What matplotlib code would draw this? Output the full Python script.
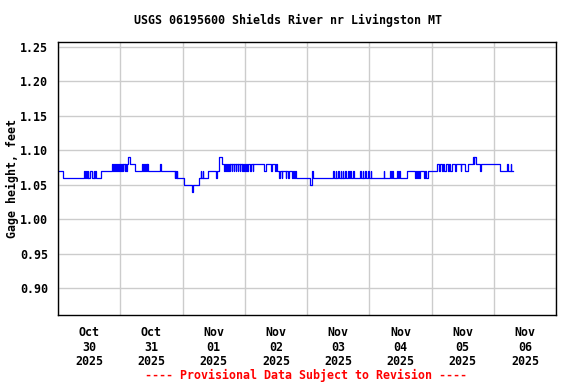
#!/usr/bin/env python3
"""USGS gage height plot, Shields River nr Livingston MT (provisional data)."""
import matplotlib
matplotlib.use("Agg")
import matplotlib.pyplot as plt
import matplotlib.dates as mdates
import numpy as np
import pandas as pd

START = pd.Timestamp("2025-10-30 00:00")

# step changes: hours after Oct 30 00:00, gage height (ft)
hours = [
    0.0, 1.75,
    10.0, 10.25, 10.75, 11.0, 11.5, 11.75, 12.5, 13.0, 13.75, 14.0, 14.25, 14.5,
    16.75,
    21.0, 21.25, 21.5, 22.0, 22.25, 22.75, 23.0, 23.5, 23.75, 24.25, 24.5, 25.0,
    25.25, 25.75, 26.0, 26.25, 26.5, 27.0, 27.75, 29.5,
    32.5, 32.75, 33.25, 33.5, 34.0, 34.25, 34.5, 34.75, 39.5, 39.75,
    45.0, 45.25, 45.5, 45.75, 46.0, 48.5, 51.75, 52.0, 54.25,
    55.0, 55.25, 55.75, 56.0, 57.75, 60.75, 61.25, 62.25, 63.25,
    64.0, 64.25, 64.75, 65.0, 65.5, 65.75, 66.25, 66.5, 67.0, 67.25,
    67.75, 68.0, 68.5, 68.75, 69.25, 69.5, 70.0, 70.25,
    70.75, 71.0, 71.5, 71.75, 72.25, 72.5, 73.0, 73.25, 74.0, 74.25, 75.0, 75.25,
    79.5, 80.0, 82.25, 82.5, 83.5, 84.0, 84.25,
    85.25, 85.75, 86.25, 86.5, 87.75, 88.0, 88.75, 89.0, 90.25, 90.5, 91.0, 91.25,
    91.75,
    97.25, 97.75, 98.0, 98.5,
    106.0, 106.25, 107.0, 107.25, 108.0, 108.25, 109.0, 109.25,
    109.75, 110.0, 110.75, 111.0, 111.75, 112.0,
    112.75, 113.0, 113.75, 114.0,
    116.5, 116.75, 117.5, 117.75, 118.5, 118.75, 119.5, 119.75,
    120.5, 120.75,
    125.5, 125.75, 128.0, 128.25, 128.75, 129.0, 130.75, 131.0, 131.5, 131.75,
    134.5,
    137.75, 138.0, 138.25, 138.75, 139.0, 139.5,
    141.25, 141.5, 141.75, 142.5,
    146.25, 146.75, 147.25, 148.0, 148.5, 149.0, 149.5, 150.5, 150.75, 151.0,
    151.75, 153.0, 153.25, 155.25, 155.5, 157.0, 158.0,
    160.0, 160.25, 160.5, 161.25, 162.75, 163.0,
    170.5, 173.25, 173.5, 174.5, 174.75, 175.5,
]
gage = [
    1.07, 1.06,
    1.07, 1.06, 1.07, 1.06, 1.07, 1.06, 1.07, 1.06, 1.07, 1.06, 1.07, 1.06,
    1.07,
    1.08, 1.07, 1.08, 1.07, 1.08, 1.07, 1.08, 1.07, 1.08, 1.07, 1.08, 1.07,
    1.08, 1.07, 1.08, 1.07, 1.08, 1.09, 1.08, 1.07,
    1.08, 1.07, 1.08, 1.07, 1.08, 1.07, 1.08, 1.07, 1.08, 1.07,
    1.06, 1.07, 1.06, 1.07, 1.06, 1.05, 1.04, 1.05, 1.06,
    1.07, 1.06, 1.07, 1.06, 1.07, 1.06, 1.07, 1.09, 1.08,
    1.07, 1.08, 1.07, 1.08, 1.07, 1.08, 1.07, 1.08, 1.07, 1.08,
    1.07, 1.08, 1.07, 1.08, 1.07, 1.08, 1.07, 1.08,
    1.07, 1.08, 1.07, 1.08, 1.07, 1.08, 1.07, 1.08, 1.07, 1.08, 1.07, 1.08,
    1.07, 1.08, 1.07, 1.08, 1.07, 1.08, 1.07,
    1.06, 1.07, 1.06, 1.07, 1.06, 1.07, 1.06, 1.07, 1.06, 1.07, 1.06, 1.07,
    1.06,
    1.05, 1.06, 1.07, 1.06,
    1.07, 1.06, 1.07, 1.06, 1.07, 1.06, 1.07, 1.06,
    1.07, 1.06, 1.07, 1.06, 1.07, 1.06,
    1.07, 1.06, 1.07, 1.06,
    1.07, 1.06, 1.07, 1.06, 1.07, 1.06, 1.07, 1.06,
    1.07, 1.06,
    1.07, 1.06, 1.07, 1.06, 1.07, 1.06, 1.07, 1.06, 1.07, 1.06,
    1.07,
    1.06, 1.07, 1.06, 1.07, 1.06, 1.07,
    1.06, 1.07, 1.06, 1.07,
    1.08, 1.07, 1.08, 1.07, 1.08, 1.07, 1.08, 1.07, 1.08, 1.07,
    1.08, 1.07, 1.08, 1.07, 1.08, 1.07, 1.08,
    1.09, 1.08, 1.09, 1.08, 1.07, 1.08,
    1.07, 1.08, 1.07, 1.08, 1.07, 1.07,
]

yticks = [0.90, 0.95, 1.00, 1.05, 1.10, 1.15, 1.20, 1.25]
title = "USGS 06195600 Shields River nr Livingston MT"
ylabel = "Gage height, feet"
footer = "---- Provisional Data Subject to Revision ----"

FONT = "DejaVu Sans Mono"
FS = 8.4

times = START + pd.to_timedelta(hours, unit="h")

fig = plt.figure(figsize=(5.76, 3.84), dpi=100)
ax = fig.add_axes([0.1007, 0.1797, 0.8646, 0.7109])

ax.plot(times, gage, drawstyle="steps-post", color="#0000ff", linewidth=0.9)

ax.set_xlim(START, START + pd.Timedelta(days=8))
ax.set_ylim(0.8608, 1.2573)
ax.set_yticks(yticks)
ax.set_yticklabels([f"{v:.2f}" for v in yticks])

# labels at noon, grid lines at midnight
ax.xaxis.set_major_locator(mdates.HourLocator(byhour=[12]))
ax.xaxis.set_major_formatter(mdates.DateFormatter("%b\n%d\n%Y"))
ax.xaxis.set_minor_locator(mdates.HourLocator(byhour=[0]))
ax.grid(False, axis="x", which="major")
ax.grid(True, axis="x", which="minor", color="#cccccc", linewidth=1.0)
ax.grid(True, axis="y", which="major", color="#cccccc", linewidth=1.0)
ax.set_axisbelow(True)

ax.tick_params(axis="both", which="both", length=0)
ax.tick_params(axis="x", pad=8)
ax.tick_params(axis="y", pad=7)
for lbl in ax.get_xticklabels() + ax.get_yticklabels():
    lbl.set_fontfamily(FONT)
    lbl.set_fontweight("bold")
    lbl.set_fontsize(FS)
    lbl.set_linespacing(1.15)

for s in ax.spines.values():
    s.set_color("black")
    s.set_linewidth(1.0)

fig.text(12 / 576, 0.535, ylabel, rotation=90, ha="center", va="center",
         family=FONT, fontweight="bold", fontsize=FS)
fig.text(0.5, 0.948, title, ha="center", va="center", family=FONT,
         fontweight="bold", fontsize=FS)
fig.text(0.532, 0.022, footer, ha="center", va="center", family=FONT,
         fontweight="bold", fontsize=FS, color="red")

fig.savefig("out.png", dpi=100)
